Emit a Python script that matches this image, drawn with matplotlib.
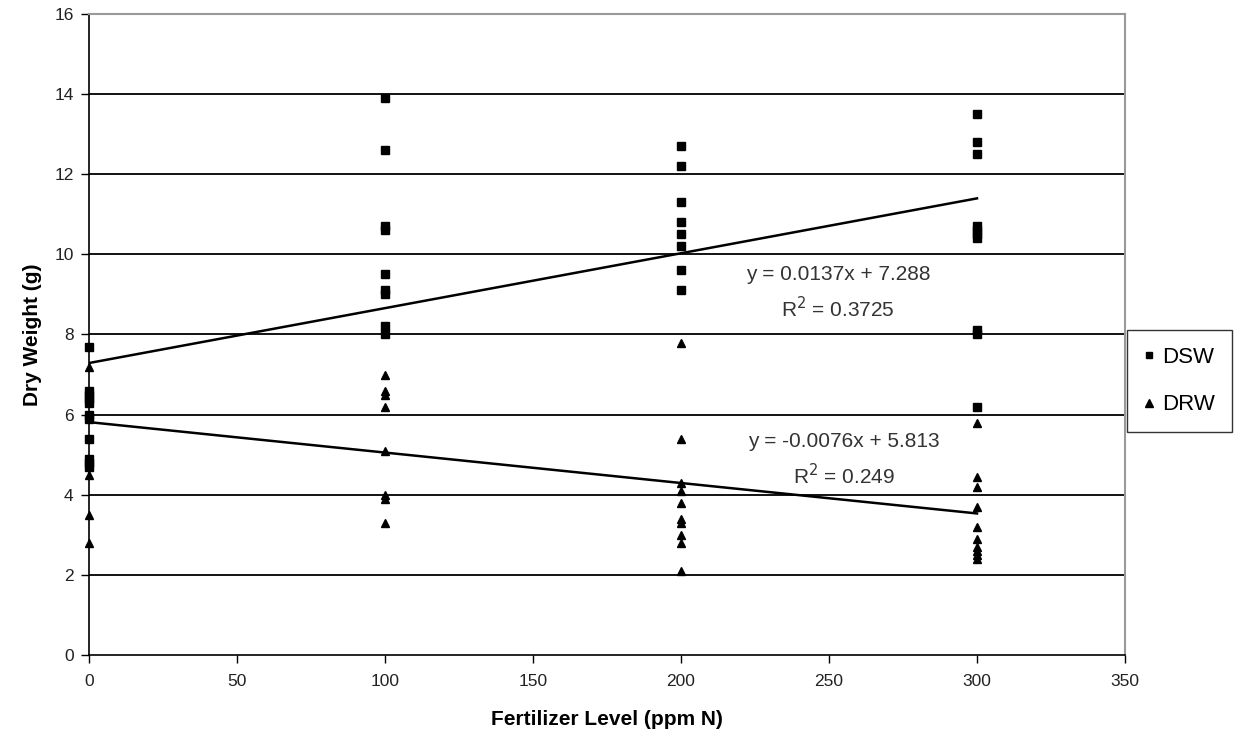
import matplotlib
matplotlib.use("Agg")
import matplotlib.pyplot as plt
import numpy as np
from matplotlib.lines import Line2D

plt.rcParams['font.family'] = ['Liberation Sans', 'DejaVu Sans']

# Data
dsw_x = [0]*11 + [100]*9 + [200]*8 + [300]*10
dsw_y = [7.7, 6.6, 6.5, 6.4, 6.3, 6.0, 5.9, 5.4, 4.9, 4.8, 4.7,
         13.9, 12.6, 10.7, 10.6, 9.5, 9.1, 9.0, 8.2, 8.0,
         12.7, 12.2, 11.3, 10.8, 10.5, 10.2, 9.6, 9.1,
         13.5, 12.8, 12.5, 10.7, 10.6, 10.5, 10.4, 8.1, 8.0, 6.2]
drw_x = [0]*4 + [100]*8 + [200]*10 + [300]*10
drw_y = [7.2, 4.5, 3.5, 2.8,
         7.0, 6.6, 6.5, 6.2, 5.1, 4.0, 3.9, 3.3,
         7.8, 5.4, 4.3, 4.1, 3.8, 3.4, 3.3, 3.0, 2.8, 2.1,
         5.8, 4.45, 4.2, 3.7, 3.2, 2.9, 2.7, 2.6, 2.5, 2.4]
dsw_fit = (0.0137, 7.288, 0.3725)
drw_fit = (-0.0076, 5.813, 0.249)
fit_range = [0, 300]
x_ticks = [0, 50, 100, 150, 200, 250, 300, 350]
y_ticks = [0, 2, 4, 6, 8, 10, 12, 14, 16]

fig = plt.figure(figsize=(12.38, 7.4), dpi=100)
ax = fig.add_axes([89/1238, 85/740, (1125-89)/1238, (655-14)/740])

ax.set_xlim(0, 350)
ax.set_ylim(0, 16)
ax.set_xticks(x_ticks)
ax.set_yticks(y_ticks)
ax.tick_params(axis='both', direction='out', length=6, width=1, labelsize=12.5, colors='black')
ax.tick_params(axis='x', pad=8)
ax.tick_params(axis='y', pad=5)
for t in ax.get_xticklabels() + ax.get_yticklabels():
    t.set_color('#222222')
for yv in y_ticks[1:-1]:
    ax.axhline(yv, color='black', lw=1.3, zorder=1)

for side in ['top', 'right']:
    ax.spines[side].set_color('#999999')
    ax.spines[side].set_linewidth(1.5)
for side in ['left', 'bottom']:
    ax.spines[side].set_color('black')
    ax.spines[side].set_linewidth(1.2)

ax.plot(dsw_x, dsw_y, ls='none', marker='s', ms=6, color='black', zorder=3, clip_on=False)
ax.plot(drw_x, drw_y, ls='none', marker='^', ms=6, color='black', zorder=3, clip_on=False)

xs = np.array(fit_range)
ax.plot(xs, dsw_fit[0]*xs + dsw_fit[1], color='black', lw=1.8, zorder=2)
ax.plot(xs, drw_fit[0]*xs + drw_fit[1], color='black', lw=1.8, zorder=2)

tc = '#333333'
ax.text(253, 9.5, f"y = {dsw_fit[0]}x + {dsw_fit[1]}", ha='center', va='center', fontsize=15, color=tc)
ax.text(253, 8.65, f"R$^2$ = {dsw_fit[2]}", ha='center', va='center', fontsize=15, color=tc)
ax.text(255, 5.32, f"y = {drw_fit[0]}x + {drw_fit[1]}", ha='center', va='center', fontsize=15, color=tc)
ax.text(255, 4.47, f"R$^2$ = {drw_fit[2]}", ha='center', va='center', fontsize=15, color=tc)

ax.set_xlabel("Fertilizer Level (ppm N)", fontsize=15, fontweight='bold', labelpad=15)
ax.set_ylabel("Dry Weight (g)", fontsize=15, fontweight='bold', labelpad=9)

handles = [Line2D([], [], ls='none', marker='s', ms=5, color='black'),
           Line2D([], [], ls='none', marker='^', ms=5.5, color='black')]
leg = fig.legend(handles, ['DSW', 'DRW'], loc='center left',
                 bbox_to_anchor=(1127/1238, 1 - 381/740), fontsize=16,
                 frameon=True, fancybox=False, handlelength=0.5, handletextpad=0.35,
                 labelspacing=1.2, borderpad=0.75, borderaxespad=0)
leg.get_frame().set_edgecolor('black')
leg.get_frame().set_linewidth(1.0)

fig.savefig("out.png", dpi=100)
